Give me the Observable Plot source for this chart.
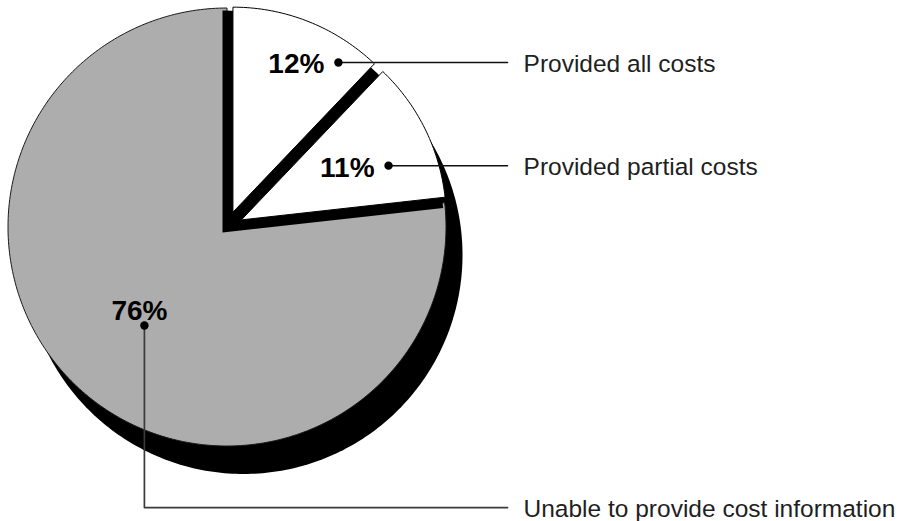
<!DOCTYPE html>
<html>
<head>
<meta charset="utf-8">
<script src="https://cdn.jsdelivr.net/npm/d3@7"></script>
<script src="https://cdn.jsdelivr.net/npm/@observablehq/plot@0.6"></script>
<style>
  html, body { margin: 0; padding: 0; background: #fff; }
  #chart svg { display: block; }
</style>
</head>
<body>
<div id="chart"></div>
<script>
// ---- data ----
const categories = ["Provided all costs", "Provided partial costs", "Unable to provide cost information"];
const values = [12, 11, 76];
const pctLabels = ["12%", "11%", "76%"];

// ---- layout (pixel-like units, origin at pie centre, y up) ----
const W = 905, H = 521;
const CX = 226.5, CY = 226.5;       // pie centre on the page
const R = 219;                       // pie radius
const Rw = 205;                      // exploded white slices radius
const explode = 16;                  // explode distance of the white slices
const backOff = [-4.5, -5.5];        // black backing under the exploded slices
const Rback = 222;
const pieShadow = [16.5, -28];       // shadow below the whole pie
// label anchor points: [angle from top (deg, clockwise), radius]
const dotPolar = [[34.1, 198.7], [69.2, 172.8], [220, 128.5]];
const leaderX = R * 1.281;
const labelX = leaderX + 16;
const bottomLeaderY = -R * 1.281;

const total = d3.sum(values);
const cum = d3.cumsum(values).map(v => v / total * 360);
const starts = [0, ...cum.slice(0, -1)];
const ends = cum;
const rad = a => a * Math.PI / 180;

function sector(cx, cy, r, a0, a1, key, full) {
  const pts = [];
  if (!full) pts.push({x: cx, y: cy, key});
  const n = Math.max(8, Math.ceil(a1 - a0));
  for (let i = 0; i <= n; i++) {
    const a = rad(a0 + (a1 - a0) * i / n);
    pts.push({x: cx + r * Math.sin(a), y: cy + r * Math.cos(a), key});
  }
  pts.push({...pts[0]});
  return pts;
}

const shadowCircle = sector(pieShadow[0], pieShadow[1], R, 0, 360, "shadow", true);
const graySlice = sector(0, 0, R, starts[2], ends[2], "gray");
const backing = sector(backOff[0], backOff[1], Rback, starts[0], ends[1], "back");
const white = [0, 1].map(i => {
  const mid = rad((starts[i] + ends[i]) / 2);
  return sector(explode * Math.sin(mid), explode * Math.cos(mid), Rw, starts[i], ends[i], "w" + i);
});

const dots = dotPolar.map(([a, r], i) => ({
  x: r * Math.sin(rad(a)),
  y: r * Math.cos(rad(a)),
  pct: pctLabels[i],
  cat: categories[i]
}));

const leaders = [
  [{x: dots[0].x, y: dots[0].y}, {x: leaderX, y: dots[0].y}],
  [{x: dots[1].x, y: dots[1].y}, {x: leaderX, y: dots[1].y}],
  [{x: dots[2].x, y: dots[2].y}, {x: dots[2].x, y: bottomLeaderY}, {x: leaderX, y: bottomLeaderY}]
];

const catLabels = [
  {x: labelX, y: dots[0].y, t: categories[0]},
  {x: labelX, y: dots[1].y, t: categories[1]},
  {x: labelX, y: bottomLeaderY, t: categories[2]}
];

const FONT = "'Liberation Sans', Arial, Helvetica, sans-serif";

const poly = (data, fill, stroke, sw) => Plot.line(data, {x: "x", y: "y", fill, stroke: stroke || "none", strokeWidth: sw || 0, curve: "linear", strokeLinejoin: "round"});

const chart = Plot.plot({
  width: W,
  height: H,
  margin: 0,
  style: {fontFamily: FONT, background: "#fff"},
  x: {domain: [-CX, W - CX], range: [0, W], axis: null},
  y: {domain: [-(H - CY), CY], range: [H, 0], axis: null},
  marks: [
    poly(shadowCircle, "#000"),
    poly(graySlice, "#adadad", "#1a1a1a", 1),
    poly(backing, "#000"),
    poly(white[1], "#fff", "#000", 1),
    poly(white[0], "#fff", "#000", 1),
    Plot.line(leaders[0], {x: "x", y: "y", stroke: "#111", strokeWidth: 1.5}),
    Plot.line(leaders[1], {x: "x", y: "y", stroke: "#111", strokeWidth: 1.5}),
    Plot.line(leaders[2], {x: "x", y: "y", stroke: "#3a3a3a", strokeWidth: 1.7}),
    Plot.dot(dots, {x: "x", y: "y", r: 4.2, fill: "#000", stroke: "none"}),
    Plot.text(dots.slice(0, 2), {x: "x", y: "y", text: "pct", textAnchor: "end", dx: -14, dy: 2, fontSize: 28, fontWeight: "bold", fill: "#000"}),
    Plot.text(dots.slice(2), {x: "x", y: "y", text: "pct", textAnchor: "middle", dx: -5, dy: -14, fontSize: 28, fontWeight: "bold", fill: "#000"}),
    Plot.text(catLabels, {x: "x", y: "y", text: "t", textAnchor: "start", dy: 2, fontSize: 24.5, fill: "#1f1f1f"})
  ]
});
document.getElementById("chart").appendChild(chart);
</script>
</body>
</html>
